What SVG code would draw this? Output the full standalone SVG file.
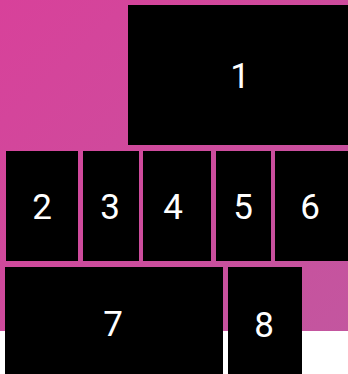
<svg xmlns="http://www.w3.org/2000/svg" width="348" height="374" viewBox="0 0 348 374">
<defs>
<linearGradient id="bg" x1="0" y1="0" x2="1" y2="1">
<stop offset="0" stop-color="#d8419a"/>
<stop offset="1" stop-color="#c3569f"/>
</linearGradient>
<style>
.box{fill:#000}
.lbl{fill:#fff;font-family:Roboto,"Noto Sans",sans-serif;font-size:35px;text-anchor:middle}
</style>
</defs>
<rect x="0" y="0" width="348" height="374" fill="#fff"/>
<rect x="0" y="0" width="348" height="331" fill="url(#bg)"/>
<g id="n1"><rect class="box" x="128" y="5" width="220" height="140"/><text class="lbl" x="240" y="88">1</text></g>
<g id="n2"><rect class="box" x="6" y="151" width="72" height="110"/><text class="lbl" x="42" y="219">2</text></g>
<g id="n3"><rect class="box" x="83" y="151" width="56" height="110"/><text class="lbl" x="110" y="219">3</text></g>
<g id="n4"><rect class="box" x="143" y="151" width="68" height="110"/><text class="lbl" x="173" y="219">4</text></g>
<g id="n5"><rect class="box" x="216" y="151" width="55" height="110"/><text class="lbl" x="243" y="219">5</text></g>
<g id="n6"><rect class="box" x="275" y="151" width="73" height="110"/><text class="lbl" x="310" y="219">6</text></g>
<g id="n7"><rect class="box" x="5" y="267" width="218" height="113"/><text class="lbl" x="113" y="336">7</text></g>
<g id="n8"><rect class="box" x="228" y="267" width="74" height="113"/><text class="lbl" x="264" y="337">8</text></g>
<g id="connectors"></g>
</svg>
